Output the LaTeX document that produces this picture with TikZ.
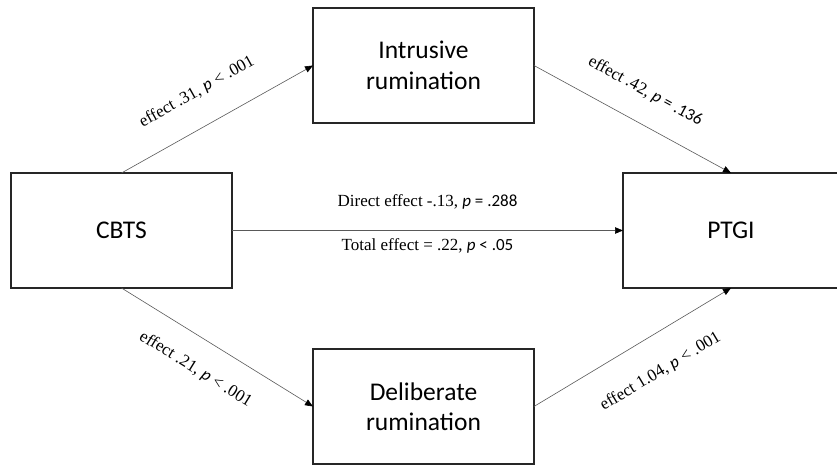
\documentclass[tikz,border=0pt]{standalone}
\usepackage{fontspec}
\setmainfont{Liberation Serif}
\newfontfamily\calibri{Carlito}
\usetikzlibrary{arrows.meta,positioning}
\newcommand{\pval}{{\calibri\itshape p}}
\newcommand{\pstat}[1]{{\calibri\textit{p} #1}}

\begin{document}
\begin{tikzpicture}[
    x=1pt, y=1pt,
    node distance=81pt,
    var/.style={draw=black!85, line width=1.3pt, align=center, minimum width=221pt, minimum height=115pt, inner sep=0pt, outer sep=0pt, font=\calibri\fontsize{25.5}{30.5}\selectfont},
    effect/.style={-{Triangle[length=8pt, width=6.5pt, color=black]}, line width=0.6pt, draw=black!65},
    lbl/.style={font=\fontsize{17}{20}\selectfont, inner sep=0pt}
]
\useasboundingbox (0,0) rectangle (837,465);
\node[var] (cbts) at (121.5,234.5) {CBTS};
\node[var, above right=50pt and 81pt of cbts] (intrusive) {Intrusive\\rumination};
\node[var, below right=61pt and 81pt of cbts] (deliberate) {Deliberate\\rumination};
\node[var, minimum width=216pt, right=391pt of cbts] (ptgi) {PTGI};
% indirect paths
\draw[effect] (cbts.north) -- (intrusive.west) node[lbl, sloped, pos=0.48, yshift=34pt] {effect .31, \pval{} < .001};
\draw[effect] (intrusive.east) -- (ptgi.north) node[lbl, sloped, pos=0.49, yshift=31pt] {effect .42, \pstat{= .136}};
\draw[effect] (cbts.south) -- (deliberate.west) node[lbl, sloped, pos=0.47, yshift=-30pt] {effect .21, \pval{} < .001};
\draw[effect] (deliberate.east) -- (ptgi.south) node[lbl, sloped, pos=0.55, yshift=-35pt] {effect 1.04, \pval{} < .001};
% direct path
\draw[effect] (cbts) -- (ptgi)
    node[lbl, midway, anchor=base, yshift=23.5pt] {Direct effect -.13, \pstat{= .288}}
    node[lbl, midway, anchor=base, yshift=-20.5pt] {Total effect = .22, \pstat{< .05}};
\end{tikzpicture}
\end{document}
